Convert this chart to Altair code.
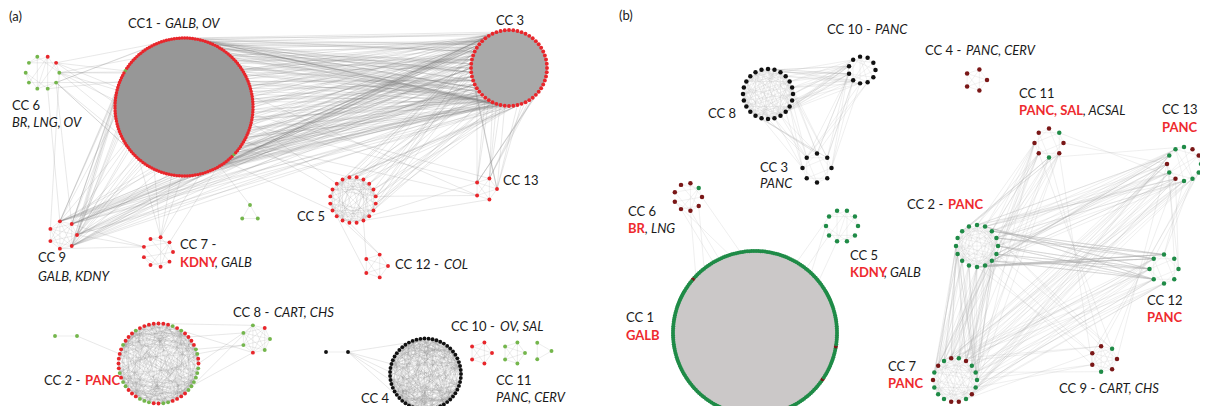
import math
import altair as alt
import pandas as pd

alt.data_transformers.disable_max_rows()

# ---------------- cluster data (reference pixel coordinates) ----------------
# panel (a)
A_NAMES = ["CC1", "CC3", "CC6", "CC9", "TRI", "CC7", "CC5", "CC13", "CC12",
           "CC2", "PAIRG", "CC8", "PAIRK", "CC4", "CC10", "CC11a", "CC11b"]
A_CX = [184, 509, 42.5, 63, 250, 158, 353, 486, 376, 158.5, 66, 256, 337, 425.5, 481, 514, 542]
A_CY = [107, 68, 72.7, 235, 214, 252, 200, 189, 266, 363.5, 336, 339, 352, 374, 353, 353, 351]
A_R = [69, 38, 16.8, 14, 9, 15, 23, 11, 12, 40, 11, 14, 11, 35.5, 11, 11, 9.5]
A_N = [165, 56, 10, 7, 3, 9, 20, 5, 5, 52, 2, 7, 2, 55, 5, 5, 3]
A_A0 = [0, 0, 0, 0, 90, 0, 9, 0, 0, 0, 0, 0, 0, 0, 0, 0, 0]
A_PAT = ["r", "r", "grrggggggg", "r", "g", "r", "r", "r", "r",
         "rrggrrrrgrgrr" "rrrrrgrrrgrrr" "rrgrggrrrgggr" "rggrrrrgggggg",
         "g", "grgggrg", "k", "k", "r", "g", "g"]
A_FILL = {"CC1": "#979797", "CC3": "#a9a9a9"}
A_ODD = {"CC1": {68: "g", 145: "g"}}

# panel (b)
B_NAMES = ["CC8", "CC10", "CC4", "CC3", "CC11", "CC13", "CC6", "CC5", "CC1",
           "CC2", "CC12", "CC7", "CC9"]
B_CX = [768, 862, 976, 817, 1049, 1184, 688, 842, 755, 977, 1164, 955, 1104]
B_CY = [94, 70, 80, 168, 143, 164, 197, 226, 333, 246, 269, 380, 359]
B_R = [25, 13.5, 11, 14.5, 14.5, 17, 14, 16, 82, 21, 14.5, 22, 13]
B_N = [24, 11, 5, 8, 8, 12, 9, 10, 230, 16, 8, 18, 7]
B_A0 = [0, 0, 0, 0, 0, 0, 0, 0, 0, 0, 0, 0, 0]
B_PAT = ["k", "k", "d", "k", "dGddddGd", "GddGGGdGdGGG",
         "dGddddddd", "G", "G", "G", "G", "GGGdGdGdGdGGGddGdG", "dGdddGd"]
B_FILL = {"CC1": "#cbc8c8"}
B_ODD = {"CC1": {89: "d", 224: "d", 208: "d", 188: "d"}}

# inter-cluster edges: (from, to, count)
A_LINKS = [("CC1", "CC3", 170), ("CC1", "CC6", 14), ("CC1", "CC9", 45), ("CC3", "CC9", 22),
           ("CC3", "CC5", 30), ("CC3", "CC13", 18), ("CC1", "CC5", 4), ("CC6", "CC3", 3),
           ("CC5", "CC12", 4), ("CC5", "CC13", 3), ("CC9", "CC7", 3), ("CC1", "TRI", 1),
           ("CC6", "CC9", 3), ("CC1", "CC7", 6), ("CC1", "CC13", 4),
           ("CC2", "CC8", 8), ("CC2", "PAIRG", 1), ("CC4", "PAIRK", 5)]
B_LINKS = [("CC8", "CC10", 35), ("CC8", "CC3", 18), ("CC10", "CC3", 12), ("CC2", "CC12", 45),
           ("CC2", "CC13", 30), ("CC2", "CC11", 18), ("CC2", "CC7", 50), ("CC7", "CC12", 20),
           ("CC7", "CC13", 25), ("CC7", "CC11", 10), ("CC9", "CC2", 6), ("CC9", "CC7", 6),
           ("CC9", "CC13", 4), ("CC9", "CC11", 3), ("CC12", "CC13", 6), ("CC11", "CC13", 3),
           ("CC6", "CC1", 6), ("CC5", "CC1", 4)]

# text labels: (text, x, y, kind)
LABELS = [
    ("(a)", 9, 17, "plain"),
    ("CC1 -", 128, 24, "plain"), ("GALB, OV", 165, 24, "italic"),
    ("CC 3", 496, 21, "plain"),
    ("CC 6", 12, 106, "plain"), ("BR, LNG, OV", 12, 123, "italic"),
    ("CC 9", 38, 258, "plain"), ("GALB, KDNY", 38, 277, "italic"),
    ("CC 7 -", 180, 245, "plain"), ("KDNY", 180, 263, "red"), (", GALB", 215, 263, "italic"),
    ("CC 5", 297, 217, "plain"),
    ("CC 13", 503, 181, "plain"),
    ("CC 12 -", 395, 265, "plain"), ("COL", 444, 265, "italic"),
    ("CC 2 -", 44, 381, "plain"), ("PANC", 85, 381, "red"),
    ("CC 8 -", 233, 313, "plain"), ("CART, CHS", 274, 313, "italic"),
    ("CC 4", 361, 399, "plain"),
    ("CC 10 -", 451, 327, "plain"), ("OV, SAL", 500, 327, "italic"),
    ("CC 11", 496, 381, "plain"), ("PANC, CERV", 496, 398, "italic"),
    ("(b)", 619, 16, "plain"),
    ("CC 10 -", 827, 30, "plain"), ("PANC", 875, 30, "italic"),
    ("CC 4 -", 925, 51, "plain"), ("PANC, CERV", 966, 51, "italic"),
    ("CC 8", 708, 114, "plain"),
    ("CC 11", 1019, 94, "plain"), ("PANC, SAL", 1019, 111, "red"), (", ACSAL", 1083, 111, "italic"),
    ("CC 13", 1162, 110, "plain"), ("PANC", 1162, 128, "red"),
    ("CC 3", 760, 168, "plain"), ("PANC", 760, 184, "italic"),
    ("CC 6", 628, 212, "plain"), ("BR", 628, 229, "red"), (", LNG", 645, 229, "italic"),
    ("CC 2 -", 907, 205, "plain"), ("PANC", 948, 205, "red"),
    ("CC 5", 850, 256, "plain"), ("KDNY", 850, 273, "red"), (", GALB", 884, 273, "italic"),
    ("CC 12", 1147, 301, "plain"), ("PANC", 1147, 318, "red"),
    ("CC 1", 626, 318, "plain"), ("GALB", 626, 336, "red"),
    ("CC 7", 888, 367, "plain"), ("PANC", 888, 384, "red"),
    ("CC 9 -", 1059, 389, "plain"), ("CART, CHS", 1099, 389, "italic"),
]

COLORS = {"r": "#e8262b", "g": "#74b64c", "k": "#111111", "d": "#7a1717", "G": "#1f8b47"}
MULTS = [(3, 1), (5, 2), (7, 5), (11, 3), (13, 8), (17, 4)]

# ---------------- layout helpers ----------------
def build_panel(names, cx, cy, rr, nn, a0, pat, odd, fills, links, edge_col, edge_op, node_size):
    nodes, fill_rows, edges = [], [], []
    pos = {}
    for i, nm in enumerate(names):
        pts = []
        for k in range(nn[i]):
            th = math.radians(a0[i] + 360.0 * k / nn[i])
            x = cx[i] + rr[i] * math.cos(th)
            y = cy[i] - rr[i] * math.sin(th)
            code = odd.get(nm, {}).get(k, pat[i][k % len(pat[i])])
            nodes.append({"x": x, "y": y, "c": COLORS[code],
                          "s": node_size * (0.8 if nn[i] > 100 else 1.0)})
            pts.append((x, y))
        pos[nm] = (cx[i], cy[i], pts)
        if nm in fills:
            fill_rows.append({"x": cx[i], "y": cy[i], "s": (2 * rr[i]) ** 2, "c": fills[nm]})
        else:
            n = nn[i]
            if n <= 7:
                pairs = {(p, q) for p in range(n) for q in range(p + 1, n)}
            else:
                use = MULTS[:2] if n <= 12 else MULTS
                pairs = set()
                for a, b in use:
                    for p in range(n):
                        q = (a * p + b) % n
                        if q != p:
                            pairs.add((min(p, q), max(p, q)))
            for p, q in sorted(pairs):
                edges.append({"x": pts[p][0], "y": pts[p][1], "x2": pts[q][0], "y2": pts[q][1],
                              "c": edge_col, "o": edge_op * 0.8})

    def facing(a, b, frac):
        ax, ay, pts = pos[a]
        bx, by, _ = pos[b]
        dx, dy = bx - ax, by - ay
        order = sorted(pts, key=lambda p: -((p[0] - ax) * dx + (p[1] - ay) * dy))
        return order[:max(1, int(math.ceil(frac * len(order))))]

    for a, b, cnt in links:
        fa, fb = facing(a, b, 0.45), facing(b, a, 0.45)
        for k in range(cnt):
            pa = fa[(k * 7) % len(fa)]
            pb = fb[(k * 5 + k // len(fb)) % len(fb)]
            edges.append({"x": pa[0], "y": pa[1], "x2": pb[0], "y2": pb[1],
                          "c": edge_col, "o": edge_op})
    return nodes, fill_rows, edges


na, fa, ea = build_panel(A_NAMES, A_CX, A_CY, A_R, A_N, A_A0, A_PAT, A_ODD, A_FILL, A_LINKS,
                         "#7a7a7a", 0.35, 15)
nb, fb, eb = build_panel(B_NAMES, B_CX, B_CY, B_R, B_N, B_A0, B_PAT, B_ODD, B_FILL, B_LINKS,
                         "#ababab", 0.38, 20)

nodes_df = pd.DataFrame(na + nb)
fills_df = pd.DataFrame(fa + fb)
edges_df = pd.DataFrame(ea + eb)
labels_df = pd.DataFrame(LABELS, columns=["text", "x", "y", "kind"])

W, H = 1192, 398
xs = alt.Scale(domain=[8, 8 + W], nice=False, zero=False)
ys = alt.Scale(domain=[8, 8 + H], nice=False, zero=False, reverse=True)
X = alt.X("x:Q", scale=xs, axis=None)
Y = alt.Y("y:Q", scale=ys, axis=None)

edge_layer = alt.Chart(edges_df).mark_rule(strokeWidth=0.5).encode(
    x=X, y=Y, x2="x2:Q", y2="y2:Q",
    color=alt.Color("c:N", scale=None), opacity=alt.Opacity("o:Q", scale=None))

fill_layer = alt.Chart(fills_df).mark_circle(opacity=1, strokeWidth=0).encode(
    x=X, y=Y, size=alt.Size("s:Q", scale=None), color=alt.Color("c:N", scale=None))

node_layer = alt.Chart(nodes_df).mark_circle(opacity=1).encode(
    x=X, y=Y, size=alt.Size("s:Q", scale=None), color=alt.Color("c:N", scale=None))

FONT = "Lato"
FS = 13
plain = alt.Chart(labels_df).transform_filter(alt.datum.kind == "plain").mark_text(
    align="left", baseline="middle", font=FONT, fontSize=FS, color="#1a1a1a").encode(
    x=X, y=Y, text="text:N")
italic = alt.Chart(labels_df).transform_filter(alt.datum.kind == "italic").mark_text(
    align="left", baseline="middle", font=FONT, fontSize=FS, fontStyle="italic",
    color="#1a1a1a").encode(x=X, y=Y, text="text:N")
red = alt.Chart(labels_df).transform_filter(alt.datum.kind == "red").mark_text(
    align="left", baseline="middle", font=FONT, fontSize=FS, fontWeight="bold",
    color="#ee2a2e").encode(x=X, y=Y, text="text:N")

chart = alt.layer(edge_layer, fill_layer, node_layer, plain, italic, red).properties(
    width=W, height=H, autosize="none", padding=0
).configure_view(stroke=None)

chart.save("out.html", embed_options={"renderer": "svg", "actions": False})
